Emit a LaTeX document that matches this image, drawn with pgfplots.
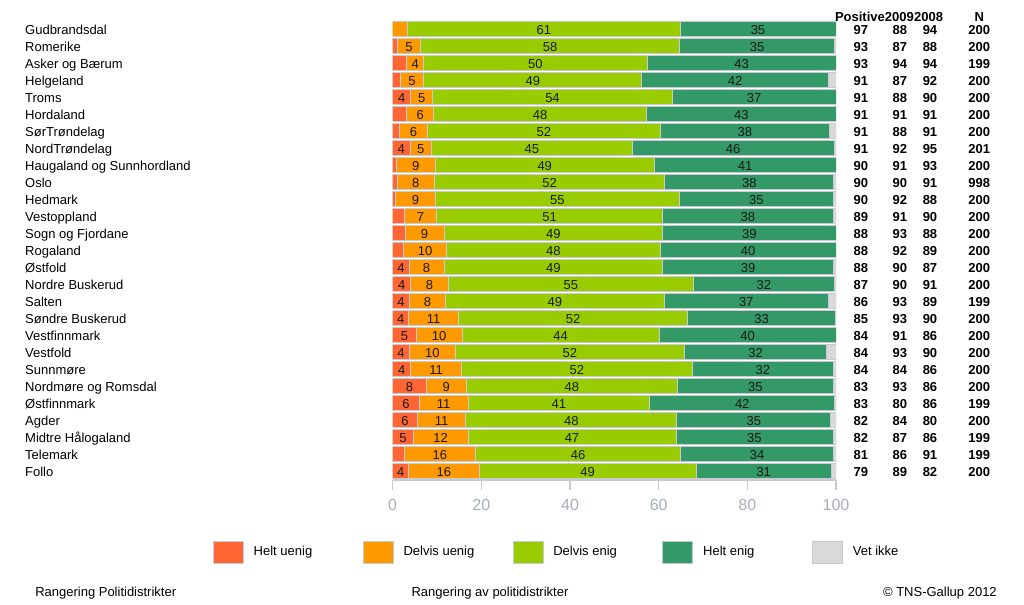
\documentclass[border=0pt]{standalone}
\usepackage{pgfplots}
\pgfplotsset{compat=1.18}
\usepackage{pgfplotstable}
\usepackage{fontspec}
\setmainfont{Liberation Sans}
\definecolor{cA}{RGB}{255,102,51}
\definecolor{cB}{RGB}{255,153,0}
\definecolor{cC}{RGB}{153,204,0}
\definecolor{cD}{RGB}{51,153,102}
\definecolor{cE}{RGB}{217,217,217}
\definecolor{tickgrey}{RGB}{166,174,188}
\definecolor{linegrey}{RGB}{200,204,210}
\newcommand{\fs}{\fontsize{9.75}{11.5}\selectfont}
\pgfplotstableread[col sep=comma, row sep=\\]{
y,a,b,c,d,e,pos,yA,yB,n,name\\
26,0,3.4,61.4,35.2,0,97,88,94,200,Gudbrandsdal\\
25,1.1,5.2,58.4,35.0,0.3,93,87,88,200,Romerike\\
24,3.2,3.8,50.4,42.6,0,93,94,94,199,Asker og Bærum\\
23,1.7,5.3,49.2,42.1,1.7,91,87,92,200,Helgeland\\
22,4.1,4.9,54.1,36.9,0,91,88,90,200,Troms\\
21,3.2,6.0,48.1,42.7,0,91,91,91,200,Hordaland\\
20,1.5,6.4,52.4,38.3,1.4,91,88,91,200,SørTrøndelag\\
19,3.9,4.9,45.2,45.6,0.4,91,92,95,201,NordTrøndelag\\
18,0.8,8.8,49.4,41.0,0,90,91,93,200,Haugaland og Sunnhordland\\
17,1.0,8.4,52.0,38.1,0.5,90,90,91,998,Oslo\\
16,0.7,8.9,55.1,34.7,0.6,90,92,88,200,Hedmark\\
15,2.6,7.3,51.0,38.4,0.7,89,91,90,200,Vestoppland\\
14,2.8,8.8,49.3,39.1,0,88,93,88,200,Sogn og Fjordane\\
13,2.4,9.8,48.1,39.7,0,88,92,89,200,Rogaland\\
12,3.7,7.9,49.3,38.5,0.6,88,90,87,200,Østfold\\
11,4.1,8.4,55.4,31.7,0.4,87,90,91,200,Nordre Buskerud\\
10,3.7,8.3,49.2,37.1,1.7,86,93,89,199,Salten\\
9,3.6,11.3,51.6,33.4,0.1,85,93,90,200,Søndre Buskerud\\
8,5.3,10.4,44.4,39.9,0,84,91,86,200,Vestfinnmark\\
7,3.8,10.3,51.7,32.1,2.1,84,93,90,200,Vestfold\\
6,4.1,11.4,52.1,31.8,0.6,84,84,86,200,Sunnmøre\\
5,7.6,9.0,47.6,35.2,0.6,83,93,86,200,Nordmøre og Romsdal\\
4,6.0,11.0,41.0,41.7,0.3,83,80,86,199,Østfinnmark\\
3,5.6,10.9,47.6,34.7,1.2,82,84,80,200,Agder\\
2,4.6,12.4,46.9,35.4,0.7,82,87,86,199,Midtre Hålogaland\\
1,2.6,16.1,46.3,34.4,0.6,81,86,91,199,Telemark\\
0,3.6,15.9,48.9,30.6,1.0,79,89,82,200,Follo\\
}\data
\begin{document}
\begin{tikzpicture}
\useasboundingbox (0,0) rectangle (768pt,-453pt);
\begin{axis}[
  at={(294.5pt,-360pt)}, anchor=south west,
  scale only axis, width=332.5pt, height=345.7pt,
  xbar stacked, bar width=0.88,
  xmin=0, xmax=100, ymin=-0.511, ymax=26.55,
  axis x line*=bottom, axis y line=none,
  x axis line style={linegrey, line width=0.8pt},
  xtick={0,20,...,100},
  tick align=outside, major tick length=7.5pt,
  major tick style={linegrey, line width=0.8pt},
  xticklabel style={text=tickgrey, font=\fontsize{12}{14}\selectfont, yshift=-3.5pt},
  /pgf/number format/assume math mode=true,
  legend columns=5,
  legend image code/.code={\fill[#1] (0pt,-8.25pt) rectangle (22.5pt,8.25pt);},
  legend style={at={(-0.4054,-0.1562)}, anchor=west, draw=none, fill=none,
    inner sep=0pt, outer sep=0pt, font=\fs,
    /tikz/every odd column/.append style={column sep=7.5pt},
    nodes={inner sep=0pt}},
  every axis plot/.append style={draw=linegrey, line width=0.6pt},
]
\addplot[fill=cA] table[x=a,y=y]{\data}; \addlegendentry{\makebox[81.75pt][l]{Helt uenig}}
\addplot[fill=cB] table[x=b,y=y]{\data}; \addlegendentry{\makebox[81.75pt][l]{Delvis uenig}}
\addplot[fill=cC] table[x=c,y=y]{\data}; \addlegendentry{\makebox[81.75pt][l]{Delvis enig}}
\addplot[fill=cD] table[x=d,y=y]{\data}; \addlegendentry{\makebox[81.75pt][l]{Helt enig}}
\addplot[fill=cE] table[x=e,y=y]{\data}; \addlegendentry{\makebox[40pt][l]{Vet ikke}}
\end{axis}
\begin{axis}[
  at={(294.5pt,-360pt)}, anchor=south west,
  scale only axis, width=332.5pt, height=345.7pt,
  xmin=0, xmax=100, ymin=-0.511, ymax=26.55,
  hide axis, clip=false,
  every axis plot/.append style={only marks, mark=*, mark size=0pt, mark options={draw=none,fill=none}},
  nodes near coords style={anchor=base, yshift=-4.2pt, inner sep=0pt, font=\fs, text=black!90},
]
\addplot[nodes near coords={\pgfmathprintnumber[fixed,precision=0,assume math mode=true]{\pgfplotspointmeta}}, point meta=explicit]
  table[x expr={\thisrow{a}<3.5 ? nan : \thisrow{a}/2}, y=y, meta=a]{\data};
\addplot[nodes near coords={\pgfmathprintnumber[fixed,precision=0,assume math mode=true]{\pgfplotspointmeta}}, point meta=explicit]
  table[x expr={\thisrow{b}<3.5 ? nan : \thisrow{a}+\thisrow{b}/2}, y=y, meta=b]{\data};
\addplot[nodes near coords={\pgfmathprintnumber[fixed,precision=0,assume math mode=true]{\pgfplotspointmeta}}, point meta=explicit]
  table[x expr={\thisrow{a}+\thisrow{b}+\thisrow{c}/2}, y=y, meta=c]{\data};
\addplot[nodes near coords={\pgfmathprintnumber[fixed,precision=0,assume math mode=true]{\pgfplotspointmeta}}, point meta=explicit]
  table[x expr={\thisrow{a}+\thisrow{b}+\thisrow{c}+\thisrow{d}/2}, y=y, meta=d]{\data};
\addplot[nodes near coords, point meta=explicit symbolic, nodes near coords style={anchor=base west, text=black}]
  table[x expr=-82.95, y=y, meta=name]{\data};
\addplot[nodes near coords, point meta=explicit symbolic, nodes near coords style={font=\fs\bfseries, text=black}]
  table[x expr=105.6, y=y, meta=pos]{\data};
\addplot[nodes near coords, point meta=explicit symbolic, nodes near coords style={font=\fs\bfseries, text=black}]
  table[x expr=114.4, y=y, meta=yA]{\data};
\addplot[nodes near coords, point meta=explicit symbolic, nodes near coords style={font=\fs\bfseries, text=black}]
  table[x expr=121.2, y=y, meta=yB]{\data};
\addplot[nodes near coords, point meta=explicit symbolic, nodes near coords style={font=\fs\bfseries, text=black}]
  table[x expr=132.3, y=y, meta=n]{\data};
\node[font=\fs\bfseries, inner sep=0pt, anchor=base] at (axis cs:105.4,26.38) {Positive};
\node[font=\fs\bfseries, inner sep=0pt, anchor=base] at (axis cs:114.3,26.38) {2009};
\node[font=\fs\bfseries, inner sep=0pt, anchor=base] at (axis cs:120.9,26.38) {2008};
\node[font=\fs\bfseries, inner sep=0pt, anchor=base] at (axis cs:132.3,26.38) {N};
\end{axis}
\node[anchor=west, font=\fs, inner sep=0pt] at (26.25pt,-444.75pt) {Rangering Politidistrikter};
\node[font=\fs, inner sep=0pt] at (367.5pt,-444.75pt) {Rangering av politidistrikter};
\node[anchor=east, font=\fs, inner sep=0pt] at (747.75pt,-444.75pt) {© TNS-Gallup 2012};
\end{tikzpicture}
\end{document}
